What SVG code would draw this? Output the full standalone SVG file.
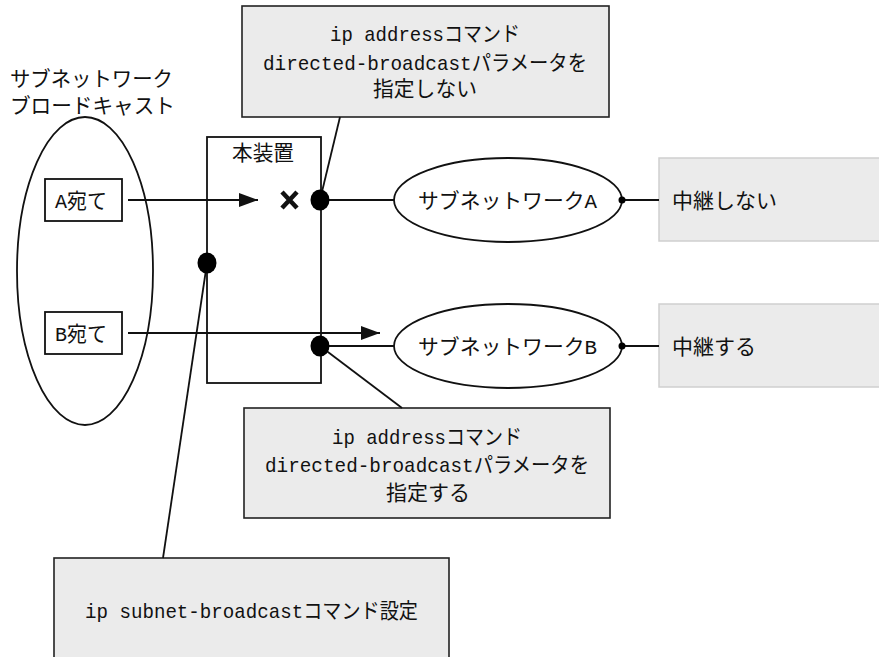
<svg xmlns="http://www.w3.org/2000/svg" width="879" height="657" viewBox="0 0 879 657">
<defs>
<style>
.t{font-family:"Liberation Mono","Noto Sans CJK JP",monospace;font-size:21px;fill:#111}
.call{fill:#ebebeb;stroke:#222;stroke-width:1.6}
.res{fill:#ebebeb;stroke:#cfcfcf;stroke-width:1.5}
.ln{stroke:#111;stroke-width:1.8;fill:none}
.el{fill:#fff;stroke:#111;stroke-width:1.8}
</style>
<marker id="ah" markerWidth="20" markerHeight="14" refX="19" refY="7" orient="auto" markerUnits="userSpaceOnUse">
<path d="M0,0 L19,7 L0,14 Z" fill="#111"/>
</marker>
</defs>
<rect width="879" height="657" fill="#fff"/>

<g id="broadcast-group">
<text class="t" x="10" y="86" textLength="163" lengthAdjust="spacingAndGlyphs">サブネットワーク</text>
<text class="t" x="10" y="113" textLength="165" lengthAdjust="spacingAndGlyphs">ブロードキャスト</text>
<ellipse class="el" cx="85" cy="271" rx="68" ry="154"/>
</g>
<g id="dest-a">
<rect x="45" y="179" width="77" height="42" fill="#fff" stroke="#111" stroke-width="1.8"/>
<text class="t" x="55" y="208" textLength="52" lengthAdjust="spacingAndGlyphs">A宛て</text>
</g>
<g id="dest-b">
<rect x="45" y="312" width="77" height="42" fill="#fff" stroke="#111" stroke-width="1.8"/>
<text class="t" x="55" y="341" textLength="52" lengthAdjust="spacingAndGlyphs">B宛て</text>
</g>
<g id="device">
<rect x="207" y="137" width="114" height="246" fill="none" stroke="#111" stroke-width="1.8"/>
<text class="t" x="232" y="160" textLength="62" lengthAdjust="spacingAndGlyphs">本装置</text>
</g>
<g id="subnet-a">
<ellipse class="el" cx="508" cy="200" rx="114" ry="42"/>
<text class="t" x="418" y="208" textLength="179" lengthAdjust="spacingAndGlyphs">サブネットワークA</text>
</g>
<g id="subnet-b">
<ellipse class="el" cx="508" cy="346" rx="114" ry="42"/>
<text class="t" x="418" y="354" textLength="179" lengthAdjust="spacingAndGlyphs">サブネットワークB</text>
</g>
<g id="result-a">
<rect class="res" x="659" y="158" width="230" height="83"/>
<text class="t" x="672" y="208" textLength="105" lengthAdjust="spacingAndGlyphs">中継しない</text>
</g>
<g id="result-b">
<rect class="res" x="659" y="304" width="230" height="83"/>
<text class="t" x="672" y="354" textLength="84" lengthAdjust="spacingAndGlyphs">中継する</text>
</g>
<g id="note-top">
<rect class="call" x="242" y="6" width="367" height="111"/>
<text class="t" x="330" y="41" textLength="190" lengthAdjust="spacingAndGlyphs">ip addressコマンド</text>
<text class="t" x="263" y="70" textLength="324" lengthAdjust="spacingAndGlyphs">directed-broadcastパラメータを</text>
<text class="t" x="373" y="96" textLength="104" lengthAdjust="spacingAndGlyphs">指定しない</text>
</g>
<g id="note-mid">
<rect class="call" x="244" y="408" width="366" height="110"/>
<text class="t" x="332" y="444" textLength="190" lengthAdjust="spacingAndGlyphs">ip addressコマンド</text>
<text class="t" x="265" y="472" textLength="324" lengthAdjust="spacingAndGlyphs">directed-broadcastパラメータを</text>
<text class="t" x="386" y="500" textLength="84" lengthAdjust="spacingAndGlyphs">指定する</text>
</g>
<g id="note-bottom">
<rect class="call" x="54" y="558" width="395" height="110"/>
<text class="t" x="85" y="618" textLength="333" lengthAdjust="spacingAndGlyphs">ip subnet-broadcastコマンド設定</text>
</g>

<g id="connectors">
<line class="ln" x1="128" y1="200" x2="258" y2="200" marker-end="url(#ah)"/>
<line class="ln" x1="128" y1="333" x2="380" y2="333" marker-end="url(#ah)"/>
<path d="M282,192 L297,208 M297,192 L282,208" stroke="#111" stroke-width="4.5" fill="none"/>
<line class="ln" x1="320" y1="200" x2="394" y2="200"/>
<line class="ln" x1="320" y1="346" x2="394" y2="346"/>
<line class="ln" x1="320" y1="200" x2="340" y2="117"/>
<line class="ln" x1="320" y1="346" x2="402" y2="408"/>
<line class="ln" x1="207" y1="263" x2="163" y2="558"/>
<line class="ln" x1="622" y1="200" x2="659" y2="200"/>
<line class="ln" x1="622" y1="346" x2="659" y2="346"/>
<ellipse cx="320" cy="200" rx="9.5" ry="10.5" fill="#000"/>
<ellipse cx="320" cy="346" rx="9.5" ry="10.5" fill="#000"/>
<ellipse cx="207" cy="263" rx="9.5" ry="10.5" fill="#000"/>
<circle cx="622" cy="200" r="3.5" fill="#000"/>
<circle cx="622" cy="346" r="3.5" fill="#000"/>
</g>
</svg>
